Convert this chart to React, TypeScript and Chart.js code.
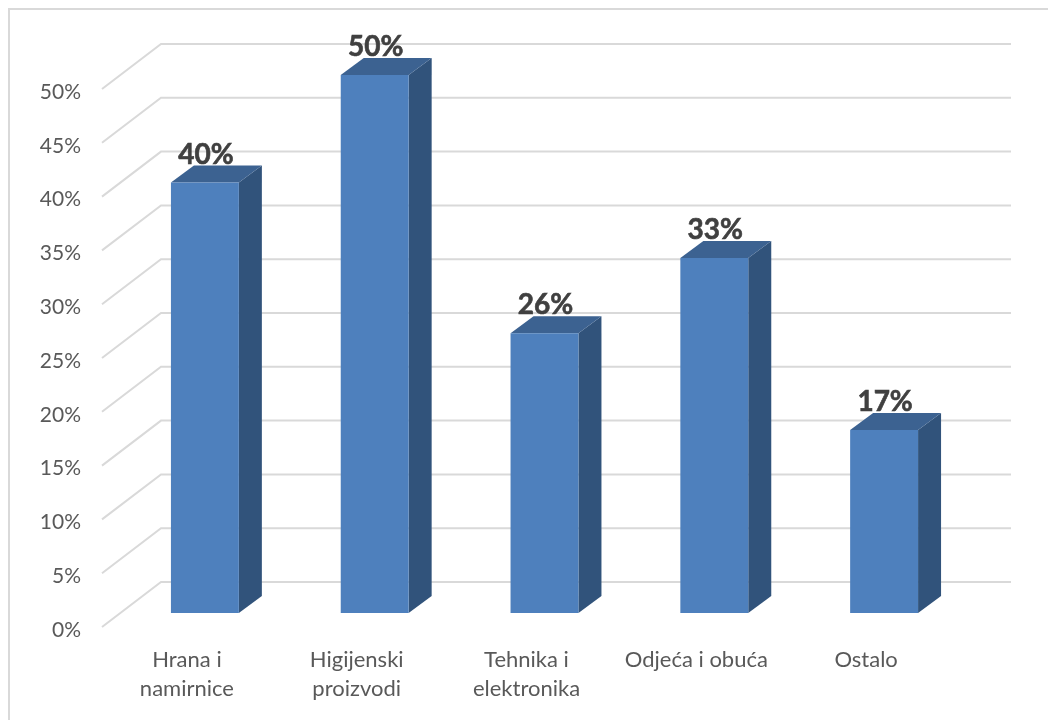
import React, { useEffect, useRef } from "react";
import { Chart, registerables } from "chart.js";

Chart.register(...registerables);

const categories: (string | string[])[] = [
  ["Hrana i", "namirnice"],
  ["Higijenski", "proizvodi"],
  ["Tehnika i", "elektronika"],
  "Odjeća i obuća",
  "Ostalo",
];
const shares = [40, 50, 26, 33, 17];
const tickStep = 5;
const tickMax = 50;

const FONT = "Lato, 'Open Sans', sans-serif";
const FRONT = "#4e80bd";
const SIDE = "#31537b";
const TOP = "#3c6291";
const GRID = "#d9d9d9";

const DEPTH_X = 23;
const DEPTH_Y = 17;

const threeD = {
  id: "threeD",
  beforeDatasetsDraw(chart: any) {
    const { ctx, scales } = chart;
    const y = scales.y;
    ctx.save();
    // walls: back grid lines and the diagonal floor/side lines
    ctx.strokeStyle = GRID;
    ctx.lineWidth = 2;
    y.ticks.forEach((t: any) => {
      const p = y.getPixelForValue(t.value);
      ctx.beginPath();
      ctx.moveTo(102, p + 14);
      ctx.lineTo(161, p - 31);
      ctx.lineTo(1011, p - 31);
      ctx.stroke();
    });
    // bar depth
    chart.getDatasetMeta(0).data.forEach((bar: any) => {
      const l = bar.x - bar.width / 2;
      const r = bar.x + bar.width / 2;
      const t = bar.y;
      const b = bar.base;
      ctx.fillStyle = SIDE;
      ctx.beginPath();
      ctx.moveTo(r, t);
      ctx.lineTo(r + DEPTH_X, t - DEPTH_Y);
      ctx.lineTo(r + DEPTH_X, b - DEPTH_Y);
      ctx.lineTo(r, b);
      ctx.closePath();
      ctx.fill();
      ctx.fillStyle = TOP;
      ctx.beginPath();
      ctx.moveTo(l, t);
      ctx.lineTo(l + DEPTH_X, t - DEPTH_Y);
      ctx.lineTo(r + DEPTH_X, t - DEPTH_Y);
      ctx.lineTo(r, t);
      ctx.closePath();
      ctx.fill();
    });
    ctx.restore();
  },
  afterDatasetsDraw(chart: any) {
    const { ctx } = chart;
    ctx.save();
    ctx.fillStyle = "#404040";
    ctx.strokeStyle = "#404040";
    ctx.lineWidth = 0.6;
    ctx.font = `bold 28px ${FONT}`;
    ctx.textAlign = "center";
    ctx.textBaseline = "alphabetic";
    chart.getDatasetMeta(0).data.forEach((bar: any, i: number) => {
      ctx.fillText(`${shares[i]}%`, bar.x + 1, bar.y - 19);
      ctx.strokeText(`${shares[i]}%`, bar.x + 1, bar.y - 19);
    });
    ctx.restore();
  },
};

export default function App() {
  const ref = useRef<HTMLCanvasElement>(null);
  useEffect(() => {
    document.body.style.margin = "0";
    const chart = new Chart(ref.current!, {
      type: "bar",
      data: {
        labels: categories,
        datasets: [
          {
            data: shares,
            backgroundColor: FRONT,
            barPercentage: 0.4,
            categoryPercentage: 1,
          },
        ],
      },
      options: {
        animation: false,
        responsive: false,
        layout: { padding: { top: 75, right: 79, bottom: 0, left: 0 } },
        plugins: { legend: { display: false }, tooltip: { enabled: false } },
        scales: {
          x: {
            grid: { display: false, drawTicks: false },
            border: { display: false },
            afterFit: (s: any) => {
              s.height = 107;
            },
            ticks: {
              color: "#595959",
              font: { family: FONT, size: 22, lineHeight: 1.32 },
              padding: 32,
              labelOffset: -18,
              maxRotation: 0,
              autoSkip: false,
            },
          },
          y: {
            min: 0,
            max: tickMax,
            grid: { display: false, drawTicks: false },
            border: { display: false },
            afterFit: (s: any) => {
              s.width = 120;
            },
            ticks: {
              stepSize: tickStep,
              color: "#595959",
              font: { family: FONT, size: 21 },
              padding: 39,
              labelOffset: 17,
              callback: (v: any) => `${v}%`,
            },
          },
        },
      },
      plugins: [threeD],
    } as any);
    return () => chart.destroy();
  }, []);
  return (
    <div
      style={{
        position: "absolute",
        left: 0,
        top: 0,
        width: 1048,
        height: 720,
        background: "#fff",
      }}
    >
      <div
        style={{
          position: "absolute",
          left: 8,
          top: 8,
          width: 1100,
          height: 800,
          border: "2px solid #d9d9d9",
          boxSizing: "border-box",
        }}
      />
      <div style={{ position: "absolute", inset: 0, overflow: "hidden" }}>
        <canvas ref={ref} width={1048} height={720} style={{ display: "block" }} />
      </div>
    </div>
  );
}
